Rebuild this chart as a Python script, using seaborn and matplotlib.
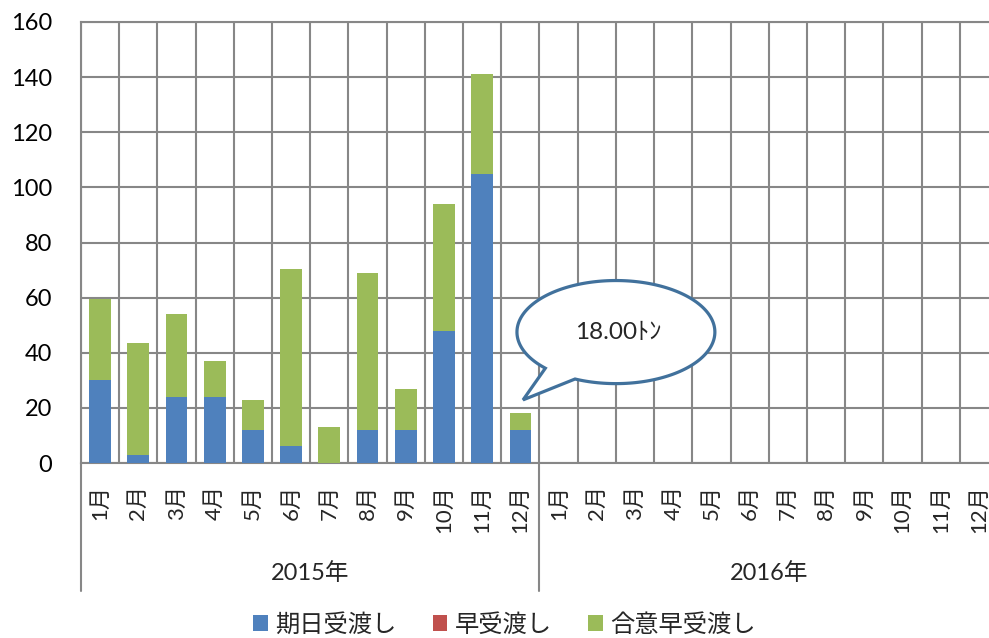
#!/usr/bin/env python3
"""
Monthly delivery volumes (stacked bars) 2015-2016
"""

import numpy as np
import pandas as pd
import matplotlib
matplotlib.use("Agg")
import matplotlib.pyplot as plt
import matplotlib.transforms as mtransforms
from matplotlib.patches import Polygon, Patch
from matplotlib.lines import Line2D
import seaborn as sns

# ---- data ----
years = ["2015年", "2016年"]
months = [f"{m}月" for m in range(1, 13)]
kijitsu = [30, 3, 24, 24, 12, 6, 0, 12, 12, 48, 105, 12] + [np.nan] * 12       # 期日受渡し
haya = [0, 0, 0, 0, 0, 0, 0, 0, 0, 0, 0, 0] + [np.nan] * 12                   # 早受渡し
goui = [29.5, 40.5, 30, 13, 11, 64.5, 13, 57, 15, 46, 36, 6] + [np.nan] * 12  # 合意早受渡し
series_names = ["期日受渡し", "早受渡し", "合意早受渡し"]
series_colors = ["#4F81BD", "#C0504D", "#9BBB59"]
callout_text = "18.00ﾄﾝ"

df = pd.DataFrame({
    "pos": range(24),
    "month": months * 2,
    "kijitsu": kijitsu,
    "haya": haya,
    "goui": goui,
})
df["lvl1"] = df["kijitsu"]
df["lvl2"] = df["kijitsu"] + df["haya"]
df["lvl3"] = df["lvl2"] + df["goui"]

sns.set_theme(style="white")
plt.rcParams["font.family"] = ["Lato", "Noto Sans CJK JP", "DejaVu Sans"]

fig = plt.figure(figsize=(9.89, 6.38), dpi=100)
ax = fig.add_axes([81 / 989, 175 / 638, 917 / 989, 441 / 638])

# stacked bars: draw cumulative layers from top to bottom
for col, color in zip(["lvl3", "lvl2", "lvl1"], series_colors[::-1]):
    sns.barplot(data=df, x="pos", y=col, color=color, width=0.57,
                order=list(range(24)), ax=ax, linewidth=0, saturation=1,
                errorbar=None, zorder=3)

grid_color = "#878787"
ax.set_xlim(-0.5, 23.5)
ax.set_ylim(0, 160)
ax.set_yticks(np.arange(0, 161, 20))
ax.set_xticks(range(24))
ax.set_xticklabels(df["month"], rotation=90, fontsize=16)
ax.set_xticks(np.arange(-0.5, 24, 1), minor=True)
ax.grid(which="minor", axis="x", color=grid_color, lw=1.5, zorder=1)
ax.grid(which="major", axis="y", color=grid_color, lw=1.5, zorder=1)
ax.grid(which="major", axis="x", visible=False)
ax.tick_params(axis="x", which="both", length=0, pad=16)
ax.tick_params(axis="y", length=0, pad=21, labelsize=17, labelcolor="black")
ax.set_xlabel("")
ax.set_ylabel("")
for s in ax.spines.values():
    s.set_color(grid_color)
    s.set_linewidth(1.5)
ax.set_axisbelow(True)

# multi-level category axis: year labels and separators
trans = mtransforms.blended_transform_factory(ax.transData, ax.transAxes)
for i, yr in enumerate(years):
    ax.text(i * 12 + 5.5, -0.25, yr, transform=trans, ha="center", va="center",
            fontsize=17)
for xb in [-0.5, 11.5, 23.5]:
    ax.add_line(Line2D([xb, xb], [0, -0.29], transform=trans, color=grid_color,
                       lw=1.5, clip_on=False))

# callout bubble for the December value
cx, cy, rx, ry = 13.5, 47.5, 2.59, 18.7
t = np.radians(np.linspace(245.6, 224.5 + 360, 200))
pts = np.column_stack([cx + rx * np.cos(t), cy + ry * np.sin(t)])
pts = np.vstack([pts, [11.07, 22.9]])
ax.add_patch(Polygon(pts, closed=True, facecolor="white", edgecolor="#41719C",
                     lw=2.3, zorder=5, clip_on=False))
ax.text(cx + 0.05, cy, callout_text, ha="center", va="center", fontsize=17.5,
        zorder=6)

# legend
handles = [Patch(facecolor=c, edgecolor="none", label=n)
           for n, c in zip(series_names, series_colors)]
fig.legend(handles=handles, loc="center", bbox_to_anchor=(0.51, 14 / 638),
           ncol=3, frameon=False, fontsize=17.5, handlelength=0.6,
           handleheight=0.6, handletextpad=0.3, columnspacing=1.5)

plt.savefig("out.png", dpi=100)
